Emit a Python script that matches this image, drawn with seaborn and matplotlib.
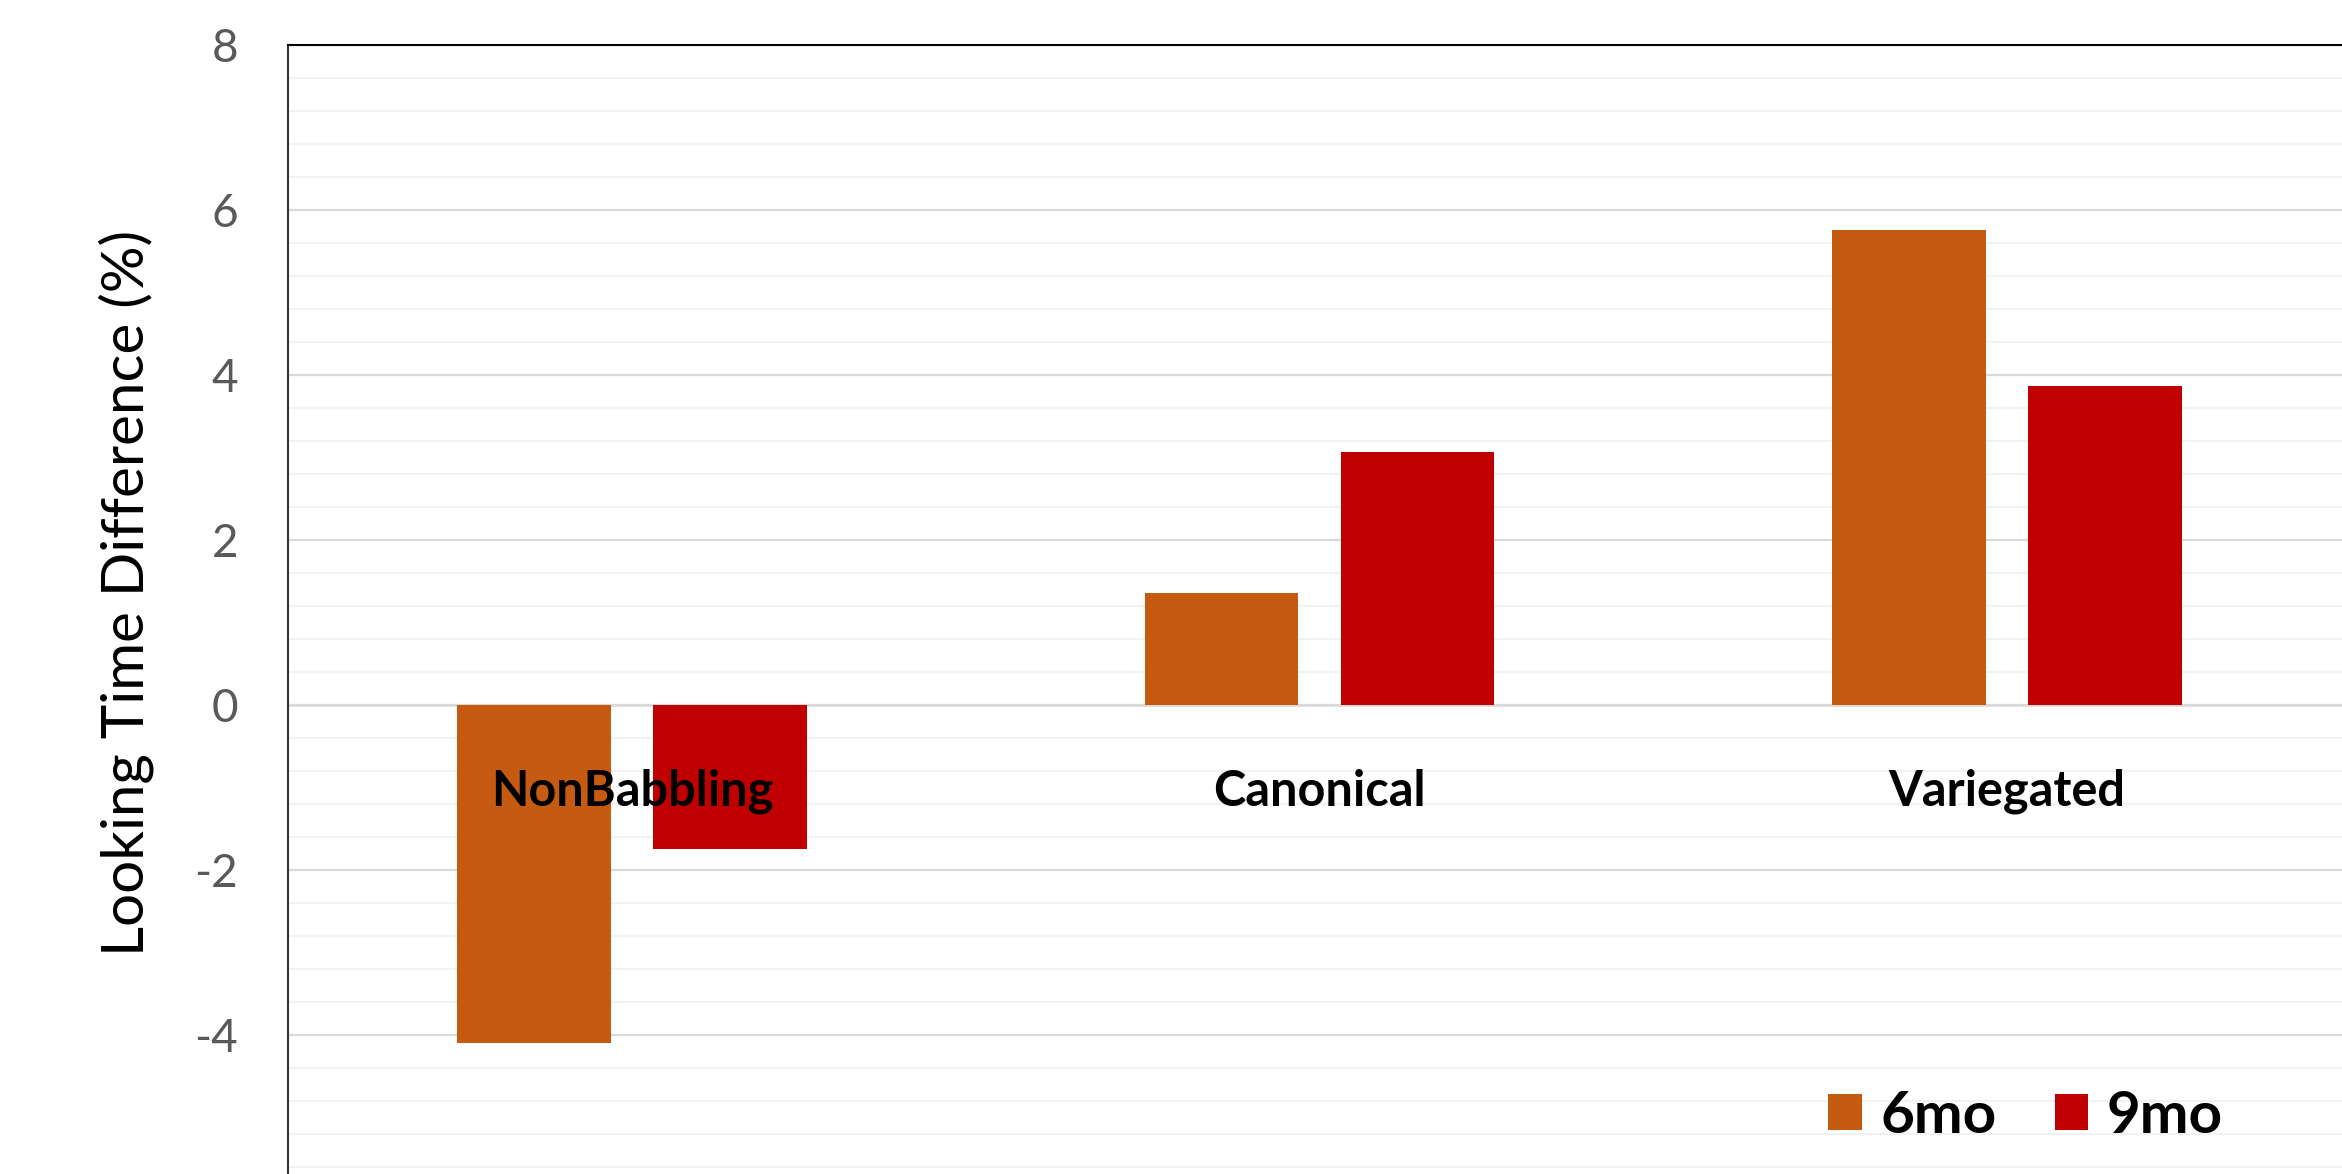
import matplotlib
matplotlib.use("Agg")
import matplotlib.pyplot as plt
import matplotlib.patches as mpatches
from matplotlib.ticker import MultipleLocator
import numpy as np
import pandas as pd
import seaborn as sns

# Data
categories = ["NonBabbling", "Canonical", "Variegated"]
ages = ["6mo", "9mo"]
values_6mo = [-4.10, 1.36, 5.75]
values_9mo = [-1.75, 3.07, 3.87]
colors = ["#C55A11", "#C00000"]
y_ticks = [-4, -2, 0, 2, 4, 6, 8]

df = pd.DataFrame({
    "category": categories * 2,
    "age": [ages[0]] * 3 + [ages[1]] * 3,
    "value": values_6mo + values_9mo,
})

sns.set_theme(style="white")
plt.rcParams["font.family"] = ["Lato", "DejaVu Sans"]
plt.rcParams["axes.unicode_minus"] = False
plt.rcParams["text.color"] = "black"

fig = plt.figure(figsize=(23.42, 11.74), dpi=100)
ax = fig.add_axes([288 / 2342, 0.0, 2063 / 2342, (1174 - 44.8) / 1174])

sns.barplot(data=df, x="category", y="value", hue="age", order=categories,
            hue_order=ages, palette=colors, width=0.57, gap=0.215,
            linewidth=0, saturation=1, ax=ax, legend=False, zorder=3)

ax.set_xlim(-0.5, 2.5)
ax.set_ylim(-5.683, 8)

# gridlines: light minor every 0.4, darker major every 2
ax.yaxis.set_major_locator(MultipleLocator(2))
ax.yaxis.set_minor_locator(MultipleLocator(0.4))
ax.set_yticks(y_ticks)
ax.set_yticklabels([str(t) for t in y_ticks])
ax.grid(which="minor", axis="y", color="#f2f2f2", linewidth=1.6, zorder=0)
ax.grid(which="major", axis="y", color="#d9d9d9", linewidth=1.6, zorder=1)
ax.set_axisbelow(True)
ax.tick_params(axis="y", which="both", length=0, pad=36, labelsize=33,
               labelcolor="#595959")
ax.tick_params(axis="x", which="both", length=0, labelbottom=False)

ax.axhline(0, color="#d9d9d9", linewidth=1.8, zorder=2)

for side in ["right", "bottom"]:
    ax.spines[side].set_visible(False)
ax.spines["left"].set_color("#333333")
ax.spines["left"].set_linewidth(1.5)
ax.spines["top"].set_color("#000000")
ax.spines["top"].set_linewidth(1.5)

ax.set_xlabel("")
ax.set_ylabel("Looking Time Difference (%)", fontsize=42, color="black",
              va="center", ha="center")
ax.yaxis.set_label_coords(-0.0783, 0.5145)

# category names drawn inside the plot, below the zero line
for i, name in enumerate(categories):
    ax.text(i, -1.22, name, ha="center", va="baseline", fontsize=35,
            fontweight="bold", color="black", zorder=5)

handles = [mpatches.Patch(facecolor=c, edgecolor="none", label=a)
           for c, a in zip(colors, ages)]
fig.legend(handles=handles, loc="center", bbox_to_anchor=(0.8648, 0.0494),
           ncol=2, frameon=False, prop={"size": 42, "weight": "bold"},
           labelcolor="black",
           handlelength=0.58, handleheight=0.58, handletextpad=0.31,
           columnspacing=1.0)

fig.savefig("out.png", dpi=100)
